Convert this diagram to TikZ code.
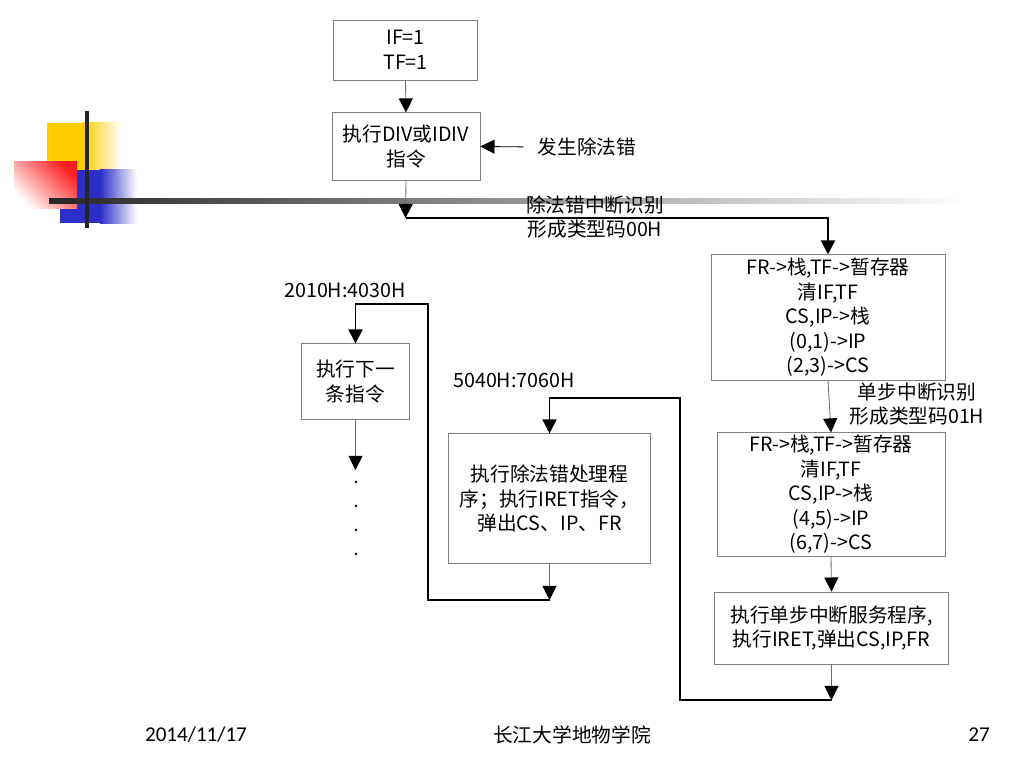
\documentclass[tikz,border=0pt]{standalone}
\usepackage{fontspec}
\newfontfamily\cjk{Noto Sans CJK SC}
\newfontfamily\footfont{Carlito}
\usetikzlibrary{arrows.meta}
\definecolor{decoyellow}{RGB}{255,204,0}
\definecolor{decored}{RGB}{255,30,30}
\definecolor{decoblue}{RGB}{45,45,200}
\tikzset{
  box/.style={draw=gray, line width=0.6pt, align=center, inner sep=0pt,
    font=\cjk\fontsize{14}{17.4}\selectfont},
  lbl/.style={align=center, inner sep=0pt, font=\cjk\fontsize{14}{17.4}\selectfont},
  tip/.style={-{Triangle[black,width=10pt,length=10pt]}},
  link/.style={draw=gray!85!black, line width=0.6pt, tip},
  route/.style={line width=1.2pt, tip}
}
\begin{document}
\begin{tikzpicture}[x=0.025cm,y=-0.025cm]
\useasboundingbox (0,0) rectangle (1024,768);

% slide decoration
\fill[decoyellow] (47,123) rectangle (82,170);
\shade[left color=decoyellow, right color=white] (82,123) rectangle (122,170);
\fill[decoblue] (60,170) rectangle (100,223);
\shade[left color=decoblue, right color=white] (100,170) rectangle (137,223);
\shade[top color=decored, bottom color=white, shading angle=-45] (14,162) rectangle (77,208);
\shade[left color=black!85, right color=white] (49,198.5) rectangle (965,203.5);
\fill[black!85] (85,111) rectangle (89,228);

% boxes
\node[box, minimum width=3.58cm, minimum height=1.5cm] (flags) at (405.5,50) {IF=1\\TF=1};
\node[box, minimum width=3.7cm, minimum height=1.68cm] (div) at (406,146.5) {执行DIV或IDIV\\指令};
\node[box, minimum width=5.85cm, minimum height=3.13cm] (int0) at (828,317.5)
  {FR->栈,TF->暂存器\\清IF,TF\\CS,IP->栈\\(0,1)->IP\\(2,3)->CS};
\node[box, minimum width=5.7cm, minimum height=3.08cm] (int1) at (831,494.5)
  {FR->栈,TF->暂存器\\清IF,TF\\CS,IP->栈\\(4,5)->IP\\(6,7)->CS};
\node[box, minimum width=5.83cm, minimum height=1.8cm] (step) at (831.5,628)
  {执行单步中断服务程序,\\执行IRET,弹出CS,IP,FR};
\node[box, minimum width=2.68cm, minimum height=1.88cm] (next) at (355.5,381.5) {执行下一\\条指令};
\node[box, minimum width=5.03cm, minimum height=3.23cm] (handler) at (549.5,498.5)
  {执行除法错处理程\\序；执行IRET指令，\\弹出CS、IP、FR};

% labels
\node[lbl] (err) at (587,147) {发生除法错};
\node[lbl] (lbl0) at (595,217) {除法错中断识别\\形成类型码00H};
\node[lbl] (lbl1) at (917,404) {单步中断识别\\形成类型码01H};
\node[lbl] (addr1) at (345,290) {2010H:4030H};
\node[lbl] (addr2) at (514,380) {5040H:7060H};

\coordinate (c0) at (405.5,218);
\coordinate (c1) at (831.5,700);
\coordinate (c2) at (549.5,600);
\coordinate (c3) at (355.5,470);

% connectors
\draw[link] (flags.south) -- (div.north);
\draw[tip, line width=0.6pt, shorten <=10pt] (err.west) -- (div.east);
\draw[link] (div.south) -- (c0);
\draw[route] (c0) -| (int0.north);
\draw[link] (int0.south) -- (int1.north);
\draw[link] (int1.south) -- (step.north);
\draw[link] (step.south) -- (c1);
\draw[route] (c1) -| (680,398) -| (handler.north);
\draw[link] (handler.south) -- (c2);
\draw[route] (c2) -| (428,304) -| (next.north);
\draw[link] (next.south) -- (c3);

\foreach \y in {482,506,530,554}
  \fill (356,\y) circle (1pt);

% footer
\node[font=\footfont\fontsize{15}{18}\selectfont] (date) at (196,735) {2014/11/17};
\node[font=\cjk\fontsize{14}{17}\selectfont] (school) at (572,735) {长江大学地物学院};
\node[font=\footfont\fontsize{15}{18}\selectfont] (page) at (979,735) {27};
\end{tikzpicture}
\end{document}
